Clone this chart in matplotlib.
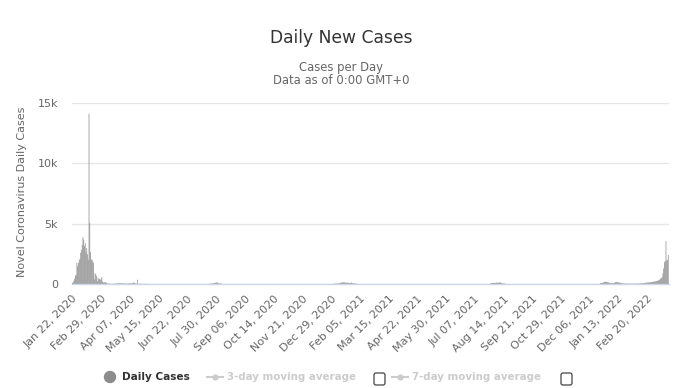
import matplotlib
matplotlib.use('Agg')
import matplotlib.pyplot as plt
import pandas as pd
import numpy as np
from matplotlib.patches import Circle, FancyBboxPatch
from matplotlib.lines import Line2D

plt.rcParams['font.family'] = ['DejaVu Sans']

# ---------------- data ----------------
start_date = '2020-01-22'
end_date = '2022-03-20'

seg_wuhan_start = '2020-01-22'
seg_wuhan = [95, 131, 259, 444, 688, 769, 1771, 1459, 1737, 1981, 2099, 2589, 2825,
             3235, 3884, 3694, 3143, 3385, 2652, 2973, 2467, 2015, 14108, 5090,
             2641, 2008, 2048, 1886, 1749, 391, 889, 823, 648, 214, 508, 406, 433,
             327, 427, 573, 202, 125, 119, 139, 143, 99, 44, 40, 19, 24, 15, 8,
             11, 20, 16, 21, 13, 34, 39, 41, 46, 39, 78, 47, 67, 55, 54, 45, 54,
             31]

seg_april_start = '2020-04-01'
seg_april = [35, 31, 19, 30, 39, 32, 62, 62, 42, 46, 99, 108, 89, 46, 26, 27, 352,
             16, 12, 11, 30, 11, 10, 12, 11, 5, 6, 22, 4, 12]

seg_xinjiang_start = '2020-07-22'
seg_xinjiang = [22, 18, 34, 46, 61, 64, 68, 101, 105, 127, 123, 45, 49, 43, 36, 37]

seg_hebei_start = '2021-01-02'
seg_hebei = [33, 19, 33, 32, 33, 53, 63, 37, 97, 103, 115, 138, 144, 109, 130,
             109, 118, 103, 103, 88, 107, 80, 79, 124, 75, 54, 55, 43, 30, 42, 20]

seg_nanjing_start = '2021-07-28'
seg_nanjing = [64, 71, 75, 85, 98, 90, 96, 85, 124, 80, 125, 94, 143, 108, 111,
               58, 50, 40, 35, 30]

seg_omicron_start = '2021-12-20'
seg_omicron = [60, 70, 80, 100, 130, 150, 170, 190, 180, 170, 150, 120,
               100, 90, 80, 70, 60, 70, 90, 110, 150, 140, 170, 150, 140,
               120, 100, 90, 80, 60, 50, 45, 40, 40, 35, 35, 30, 30, 30, 30,
               25, 30, 30,
               30, 30, 25, 25, 30, 30, 35, 40, 40, 35, 45, 50, 55, 60, 70, 80,
               90, 100, 110, 115, 120, 125, 130, 140, 150, 160, 170, 180,
               190, 200, 210, 230, 250, 270, 290, 330, 380, 450, 500, 600, 900,
               1300, 1800, 1900, 3550, 1950, 2000, 2400]

segments = [(seg_wuhan_start, seg_wuhan), (seg_april_start, seg_april),
            (seg_xinjiang_start, seg_xinjiang), (seg_hebei_start, seg_hebei),
            (seg_nanjing_start, seg_nanjing), (seg_omicron_start, seg_omicron)]

y_ticks = [0, 5000, 10000, 15000]
y_tick_labels = ['0', '5k', '10k', '15k']
tick_start = '2020-01-22'
tick_step_days = 38
n_ticks = 21

# ---------------- build series ----------------
dates = pd.date_range(start_date, end_date, freq='D')
cases = pd.Series(0.0, index=dates)
for s, vals in segments:
    idx = pd.date_range(s, periods=len(vals), freq='D')
    cases.loc[idx] = vals

# ---------------- figure ----------------
W, H = 680, 388
fig = plt.figure(figsize=(W / 100, H / 100), dpi=100)
fig.patch.set_facecolor('white')

left, right, top, bottom = 72, 669, 103, 284
ax = fig.add_axes([left / W, 1 - bottom / H, (right - left) / W, (bottom - top) / H])

bars = ax.bar(cases.index, cases.values, width=0.95, color='#8c8c8c', linewidth=0,
              align='center', zorder=2)
for b in bars:
    b.set_snap(False)

ax.set_xlim(pd.Timestamp(start_date) - pd.Timedelta(hours=12),
            pd.Timestamp(end_date) + pd.Timedelta(hours=24))
ax.set_ylim(0, 15000)

tick_dates = pd.date_range(tick_start, periods=n_ticks, freq=f'{tick_step_days}D')
ax.set_xticks(tick_dates)
ax.set_xticklabels([d.strftime('%b %d, %Y') for d in tick_dates], rotation=45,
                   ha='right', rotation_mode='anchor', fontsize=8, color='#666666')
ax.tick_params(axis='x', length=0, pad=7)

ax.set_yticks(y_ticks)
ax.set_yticklabels(y_tick_labels, fontsize=8, color='#666666')
ax.tick_params(axis='y', length=0, pad=10)

ax.yaxis.grid(True, color='#e6e6e6', linewidth=1)
ax.set_axisbelow(True)
for sp in ['top', 'right', 'left']:
    ax.spines[sp].set_visible(False)
ax.spines['bottom'].set_color('#ccd6eb')
ax.spines['bottom'].set_linewidth(1)
ax.spines['bottom'].set_zorder(3)

# ---------------- overlay (pixel coords) ----------------
oax = fig.add_axes([0, 0, 1, 1], zorder=5)
oax.set_xlim(0, W)
oax.set_ylim(H, 0)
oax.axis('off')

oax.text(341, 38, 'Daily New Cases', ha='center', va='center', fontsize=12.3,
         color='#333333')
oax.text(341, 67, 'Cases per Day', ha='center', va='center', fontsize=8.4,
         color='#666666')
oax.text(341, 81, 'Data as of 0:00 GMT+0', ha='center', va='center', fontsize=8.4,
         color='#666666')
oax.text(22, 192, 'Novel Coronavirus Daily Cases', ha='center', va='center',
         rotation=90, fontsize=8, color='#666666')

# legend
ly = 377
oax.add_patch(Circle((110, ly), 5.5, color='#8c8c8c'))
oax.text(122, ly, 'Daily Cases', ha='left', va='center', fontsize=7.6,
         fontweight='bold', color='#333333')

for x0, label, bx in [(207, '3-day moving average', 373), (392, '7-day moving average', 560)]:
    oax.add_line(Line2D([x0, x0 + 16], [ly, ly], color='#cccccc', lw=1.5))
    oax.add_line(Line2D([x0 + 8], [ly], marker='o', markersize=4.5, color='#cccccc',
                        markeredgewidth=0))
    oax.text(x0 + 20, ly, label, ha='left', va='center', fontsize=7.4,
             fontweight='bold', color='#cccccc')
    oax.add_patch(FancyBboxPatch((bx + 1, ly - 4), 11, 12,
                                 boxstyle='round,pad=0,rounding_size=2',
                                 facecolor='white', edgecolor='#444444', lw=0.9))

fig.savefig('out.png', dpi=100, facecolor='white')
